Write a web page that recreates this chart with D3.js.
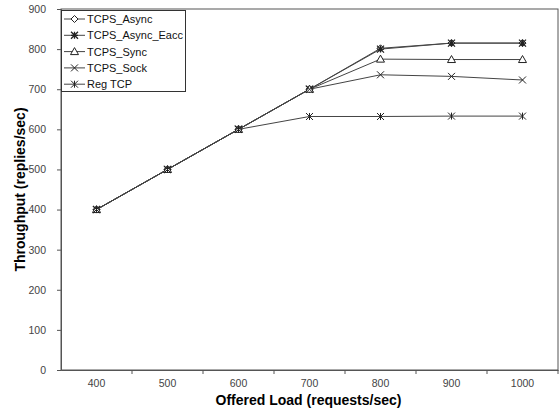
<!DOCTYPE html>
<html><head><meta charset="utf-8">
<script src="https://cdn.jsdelivr.net/npm/d3@7"></script>
<style>body{margin:0;background:#fff}svg{display:block}</style>
</head><body>
<script>
const categories = [400, 500, 600, 700, 800, 900, 1000];
const seriesNames = ["TCPS_Async", "TCPS_Async_Eacc", "TCPS_Sync", "TCPS_Sock", "Reg TCP"];
const tcpsAsync     = [400, 500, 600, 700, 802, 815, 815];
const tcpsAsyncEacc = [400, 500, 600, 700, 800, 815, 815];
const tcpsSync      = [400, 500, 600, 700, 775, 774, 774];
const tcpsSock      = [400, 500, 600, 700, 736, 732, 723];
const regTcp        = [400, 500, 600, 632, 632, 633, 633];
const markers = ["diamond", "star", "triangle", "cross", "asterisk"];
const yTicks = [0, 100, 200, 300, 400, 500, 600, 700, 800, 900];
const xTitle = "Offered Load (requests/sec)";
const yTitle = "Throughput (replies/sec)";

const W = 559, H = 414;
const m = {l: 61, r: 1, t: 9, b: 44};
const svg = d3.select("body").append("svg").attr("width", W).attr("height", H);
const x = d3.scaleBand().domain(categories).range([m.l, W - m.r]);
const y = d3.scaleLinear().domain([0, 900]).range([H - m.b, m.t]);

svg.append("rect").attr("x", m.l).attr("y", m.t).attr("width", W - m.r - m.l).attr("height", H - m.b - m.t)
  .attr("fill", "none").attr("stroke", "#555").attr("stroke-width", 1);

const font = "Liberation Sans, Arial, sans-serif";
const yAxis = svg.append("g").attr("transform", `translate(${m.l},0)`)
  .call(d3.axisLeft(y).tickValues(yTicks).tickSize(4).tickPadding(11));
yAxis.select(".domain").attr("stroke", "#555");
yAxis.selectAll("line").attr("stroke", "#555");
yAxis.selectAll("text").attr("font-family", font).attr("font-size", 10.5).attr("fill", "#444");

const xAxis = svg.append("g").attr("transform", `translate(0,${H - m.b})`)
  .call(d3.axisBottom(x).tickSize(0).tickPadding(10));
xAxis.select(".domain").attr("stroke", "#555");
xAxis.selectAll("text").attr("font-family", font).attr("font-size", 10.5).attr("fill", "#444");
svg.append("g").selectAll("line").data(categories).join("line")
  .attr("x1", d => x(d) + x.bandwidth()).attr("x2", d => x(d) + x.bandwidth())
  .attr("y1", H - m.b).attr("y2", H - m.b + 4).attr("stroke", "#555");

svg.append("text").attr("x", (m.l + W - m.r) / 2 - 1).attr("y", 405).attr("text-anchor", "middle")
  .attr("font-family", font).attr("font-weight", "bold").attr("font-size", 14).text(xTitle);
svg.append("text").attr("transform", `translate(25,${(m.t + H - m.b) / 2}) rotate(-90)`).attr("text-anchor", "middle")
  .attr("font-family", font).attr("font-weight", "bold").attr("font-size", 14).text(yTitle);

function drawMarker(g, type, cx, cy) {
  const s = 3.5, st = "#222";
  if (type === "diamond") {
    g.append("path").attr("d", `M${cx},${cy - s}L${cx + s},${cy}L${cx},${cy + s}L${cx - s},${cy}Z`).attr("fill", "#fff").attr("stroke", st);
  } else if (type === "triangle") {
    g.append("path").attr("d", `M${cx},${cy - 4}L${cx + 4},${cy + 3}L${cx - 4},${cy + 3}Z`).attr("fill", "#fff").attr("stroke", st);
  } else if (type === "cross") {
    g.append("path").attr("d", `M${cx - s},${cy - s}L${cx + s},${cy + s}M${cx - s},${cy + s}L${cx + s},${cy - s}`).attr("stroke", st);
  } else if (type === "asterisk") {
    g.append("path").attr("d", `M${cx - s},${cy - s}L${cx + s},${cy + s}M${cx - s},${cy + s}L${cx + s},${cy - s}M${cx},${cy - s}L${cx},${cy + s}`).attr("stroke", st);
  } else if (type === "star") {
    g.append("path").attr("d", `M${cx - s},${cy - s}L${cx + s},${cy + s}M${cx - s},${cy + s}L${cx + s},${cy - s}M${cx},${cy - s}L${cx},${cy + s}M${cx - s},${cy}L${cx + s},${cy}`).attr("stroke", st).attr("stroke-width", 1.3);
  }
}

const allSeries = [tcpsAsync, tcpsAsyncEacc, tcpsSync, tcpsSock, regTcp];
const line = d3.line().x((d, i) => x(categories[i]) + x.bandwidth() / 2).y(d => y(d));
const plot = svg.append("g");
allSeries.forEach(vals => {
  plot.append("path").datum(vals).attr("d", line).attr("fill", "none").attr("stroke", "#444").attr("stroke-width", 1);
});
allSeries.forEach((vals, si) => {
  vals.forEach((v, i) => drawMarker(plot, markers[si], x(categories[i]) + x.bandwidth() / 2, y(v)));
});

const lg = svg.append("g");
lg.append("rect").attr("x", 61.5).attr("y", 10.5).attr("width", 124).attr("height", 81).attr("fill", "#fff").attr("stroke", "#333");
seriesNames.forEach((name, i) => {
  const yy = 19 + i * 16.3;
  lg.append("line").attr("x1", 64).attr("x2", 85).attr("y1", yy).attr("y2", yy).attr("stroke", "#444");
  drawMarker(lg, markers[i], 74.5, yy);
  lg.append("text").attr("x", 87).attr("y", yy + 4).attr("font-family", font).attr("font-size", 11).attr("fill", "#111").text(name);
});
</script>
</body></html>
